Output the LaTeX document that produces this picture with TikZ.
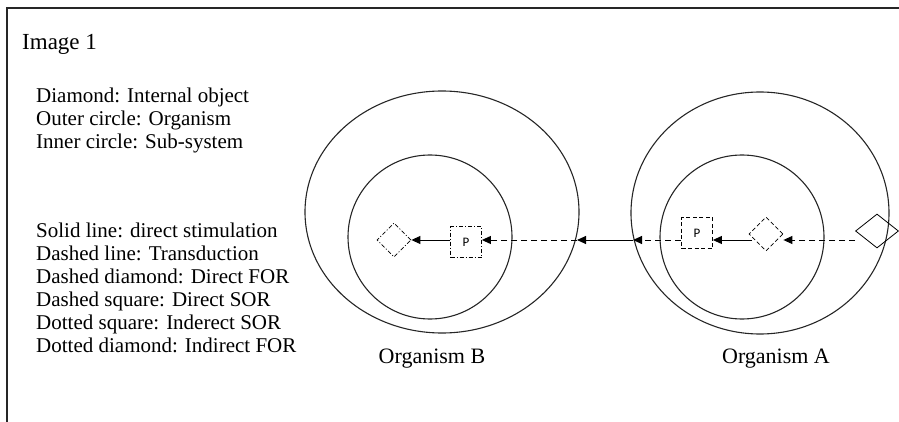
\documentclass[tikz,border=0pt]{standalone}
\usepackage{fontspec}
\setmainfont{Liberation Serif}
\newfontfamily\psans{Carlito}
\usetikzlibrary{shapes.geometric,arrows.meta}
\begin{document}
\begin{tikzpicture}[x=1pt,y=-1pt,
  ring/.style={draw=black!85,line width=1.1pt,ellipse,inner sep=0pt},
  dashbox/.style={draw,line width=0.8pt,dash pattern=on 4pt off 2.5pt,minimum size=31pt,inner sep=0pt,font=\psans\fontsize{13}{13}\selectfont},
  dotbox/.style={draw,line width=0.8pt,dash pattern=on 4pt off 2pt on 1pt off 2pt,minimum size=31pt,inner sep=0pt,font=\psans\fontsize{13}{13}\selectfont},
  diam/.style={draw,diamond,line width=0.8pt,inner sep=0pt,minimum width=34pt,minimum height=34pt},
  solidarr/.style={line width=1pt,-{Triangle[length=9pt,width=8pt]}},
  dasharr/.style={line width=1pt,dash pattern=on 6pt off 4pt,-{Triangle[length=9pt,width=8pt]}},
  leg/.style={anchor=base west,inner sep=0pt,font=\fontsize{21}{23}\selectfont},
  orglabel/.style={anchor=base,inner sep=0pt,font=\fontsize{22}{24}\selectfont}]
\useasboundingbox (0,0) rectangle (899,422);
% frame
\draw[line width=1.6pt,black!85] (900,8) -- (7,8) -- (7,423);
% title and legend
\node[anchor=base west,inner sep=0pt,font=\fontsize{23}{25}\selectfont] (title) at (22,50) {Image 1};
\node[leg] (l1) at (36,103) {Diamond: Internal object};
\node[leg] (l2) at (36,126) {Outer circle: Organism};
\node[leg] (l3) at (36,149) {Inner circle: Sub-system};
\node[leg] (l4) at (36,237) {Solid line: direct stimulation};
\node[leg] (l5) at (36,260) {Dashed line: Transduction};
\node[leg] (l6) at (36,283) {Dashed diamond: Direct FOR};
\node[leg] (l7) at (36,306) {Dashed square: Direct SOR};
\node[leg] (l8) at (36,329) {Dotted square: Inderect SOR};
\node[leg] (l9) at (36,352) {Dotted diamond: Indirect FOR};
% organisms
\node[ring,minimum width=274pt,minimum height=242pt] (oB) at (442,212) {};
\node[ring,minimum width=164pt,minimum height=164pt] (iB) at (430,237) {};
\node[ring,minimum width=258pt,minimum height=242pt] (oA) at (760,213) {};
\node[ring,minimum width=164pt,minimum height=164pt] (iA) at (742,237) {};
\node[orglabel] (labB) at (432,363) {Organism B};
\node[orglabel] (labA) at (776,363) {Organism A};
% objects
\node[diam,dash pattern=on 4pt off 2pt on 1pt off 2pt] (dB) at (394,240) {};
\node[dotbox] (pB) at (466,242) {P};
\node[dashbox] (pA) at (697,233) {P};
\node[diam,dash pattern=on 4pt off 2.5pt] (dA) at (766,234) {};
\node[diam,minimum width=43pt,minimum height=34pt] (sA) at (877,231) {};
% crossing points on the outer circles
\coordinate (aL) at (633,240);
\coordinate (bR) at (577,240);
\coordinate (dAw) at (752,240);
% connectors
\draw[dasharr] (sA.west |- aL) -- (dA.east |- aL);
\draw[solidarr] (dAw) -- (pA.east |- aL);
\draw[dasharr] (pA.west |- aL) -- (aL);
\draw[solidarr] (aL) -- (bR);
\draw[dasharr] (bR) -- (pB.east |- aL);
\draw[solidarr] (pB.west |- aL) -- (dB.east |- aL);
\end{tikzpicture}
\end{document}
